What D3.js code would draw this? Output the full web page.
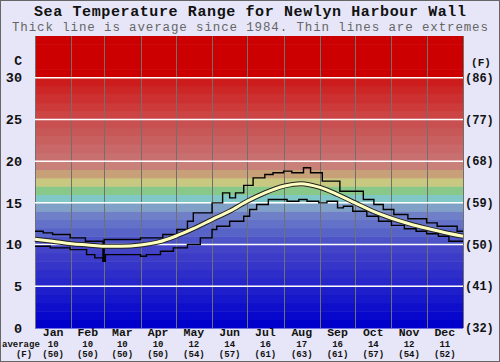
<!DOCTYPE html>
<html>
<head>
<meta charset="utf-8">
<script src="https://cdn.jsdelivr.net/npm/d3@7"></script>
<style>
  body { margin: 0; background: #fff; }
  svg { display: block; }
  text { font-family: "Liberation Mono", "DejaVu Sans Mono", monospace; }
</style>
</head>
<body>
<svg id="chart" width="500" height="362"></svg>
<script>
// month names and the monthly averages printed under the axis
const months = ["Jan","Feb","Mar","Apr","May","Jun","Jul","Aug","Sep","Oct","Nov","Dec"];
const monthStart = [0, 31, 59, 90, 120, 151, 181, 212, 243, 273, 304, 334, 365];
const monthAvgC = [10, 10, 10, 10, 12, 14, 16, 17, 16, 14, 12, 11];
const monthAvgF = [50, 50, 50, 50, 54, 57, 61, 63, 61, 57, 54, 52];

// y ticks, celsius and fahrenheit
const tickC = [0, 5, 10, 15, 20, 25, 30];
const tickF = [32, 41, 50, 59, 68, 77, 86];

// average since 1984 (day of year, deg C)
const avgDay  = [0, 15, 31, 45, 59, 74, 90, 105, 120, 135, 151, 166, 181, 196, 212, 227, 243, 258, 273, 288, 304, 319, 334, 349, 365];
const avgTemp = [10.65, 10.4, 10.1, 9.95, 9.8, 9.8, 9.95, 10.3, 11.0, 11.9, 13.0, 14.0, 15.2, 16.2, 17.0, 17.3, 16.85, 16.0, 15.0, 14.0, 13.15, 12.5, 11.95, 11.45, 11.0];

// extremes, step changes (day of year, deg C)
const maxDay  = [0, 7, 15, 30, 43, 58, 59, 90, 109, 121, 130, 135, 151, 160, 166, 171, 178, 186, 196, 203, 212, 219, 229, 235, 245, 260, 280, 289, 297, 306, 318, 334, 343, 360, 365];
const maxTemp = [11.6, 11.4, 11.2, 10.8, 10.4, 8.0, 10.6, 10.8, 11.2, 11.8, 12.8, 13.8, 15.0, 16.2, 15.6, 16.2, 17.1, 18.0, 18.4, 18.6, 18.8, 18.6, 19.2, 18.6, 17.6, 16.4, 15.4, 14.8, 14.2, 13.6, 13.1, 12.6, 12.2, 11.6, 11.6];

const minDay  = [0, 13, 30, 44, 51, 58, 60, 90, 95, 107, 118, 130, 141, 151, 155, 166, 178, 183, 189, 199, 215, 225, 232, 242, 249, 258, 263, 271, 283, 293, 304, 315, 325, 334, 344, 353, 365];
const minTemp = [9.8, 9.6, 9.4, 8.8, 8.4, 8.0, 8.8, 8.6, 8.8, 9.2, 9.6, 10.0, 10.8, 11.8, 12.2, 12.8, 13.4, 14.2, 14.8, 15.4, 15.2, 15.4, 15.2, 15.0, 15.2, 14.4, 14.6, 14.0, 13.4, 12.8, 12.3, 11.9, 11.6, 11.3, 11.0, 10.4, 10.4];

const W = 500, H = 362;
const plot = {left: 35, right: 463, top: 36, bottom: 328};

const svg = d3.select("#chart");

svg.append("rect")
    .attr("x", 0.5).attr("y", 0.5)
    .attr("width", W - 1).attr("height", H - 1)
    .attr("fill", "#e6e6f8")
    .attr("stroke", "#666");

const x = d3.scaleLinear().domain([0, 365]).range([plot.left, plot.right]);
const y = d3.scaleLinear().domain([0, 35]).range([plot.bottom, plot.top]);

// colour bands, one per degree
function bandColour(i) {
    if (i < 10) return d3.interpolateRgb("#0000cc", "#4444c8")(i / 9);
    if (i < 14) return d3.interpolateRgb("#4c54c8", "#7080c8")((i - 10) / 3);
    const mid = {14: "#80a0c8", 15: "#80c8c8", 16: "#88c888", 17: "#c8c880", 18: "#c8a078", 19: "#c88078"};
    if (mid[i]) return mid[i];
    if (i < 25) return d3.interpolateRgb("#c87070", "#c85050")((i - 20) / 4);
    if (i < 30) return d3.interpolateRgb("#cc4444", "#cc1c1c")((i - 25) / 4);
    return "#cc0000";
}

svg.append("g").selectAll("rect")
    .data(d3.range(0, 35))
    .join("rect")
    .attr("x", plot.left)
    .attr("width", plot.right - plot.left)
    .attr("y", d => y(d + 1))
    .attr("height", d => y(d) - y(d + 1) + 0.5)
    .attr("fill", d => bandColour(d));

// month dividers
svg.append("g").selectAll("line")
    .data(monthStart)
    .join("line")
    .attr("x1", d => Math.round(x(d)) + 0.5).attr("x2", d => Math.round(x(d)) + 0.5)
    .attr("y1", plot.top).attr("y2", plot.bottom)
    .attr("stroke", "#707070")
    .attr("stroke-width", 1);

// white lines every 5 degrees
svg.append("g").selectAll("line")
    .data(tickC.filter(d => d > 0))
    .join("line")
    .attr("x1", plot.left).attr("x2", plot.right)
    .attr("y1", d => y(d)).attr("y2", d => y(d))
    .attr("stroke", "#fff")
    .attr("stroke-width", 1.5);

// extremes
const stepLine = d3.line()
    .curve(d3.curveStepAfter)
    .x(d => x(d[0]))
    .y(d => y(d[1]));

svg.append("path")
    .datum(maxDay.map((d, i) => [d, maxTemp[i]]))
    .attr("d", stepLine)
    .attr("fill", "none")
    .attr("stroke", "#000")
    .attr("stroke-width", 1.4);

svg.append("path")
    .datum(minDay.map((d, i) => [d, minTemp[i]]))
    .attr("d", stepLine)
    .attr("fill", "none")
    .attr("stroke", "#000")
    .attr("stroke-width", 1.4);

// average
const avgLine = d3.line()
    .curve(d3.curveMonotoneX)
    .x(d => x(d[0]))
    .y(d => y(d[1]));
const avgData = avgDay.map((d, i) => [d, avgTemp[i]]);

svg.append("path")
    .datum(avgData)
    .attr("d", avgLine)
    .attr("fill", "none")
    .attr("stroke", "#222")
    .attr("stroke-width", 5);
svg.append("path")
    .datum(avgData)
    .attr("d", avgLine)
    .attr("fill", "none")
    .attr("stroke", "#ffffc0")
    .attr("stroke-width", 3);

// titles
svg.append("text")
    .attr("x", W / 2).attr("y", 16)
    .attr("text-anchor", "middle")
    .attr("font-size", 15).attr("font-weight", "bold")
    .attr("textLength", 432).attr("lengthAdjust", "spacing")
    .attr("fill", "#111")
    .text("Sea Temperature Range for Newlyn Harbour Wall");

svg.append("text")
    .attr("x", W / 2).attr("y", 31)
    .attr("text-anchor", "middle")
    .attr("font-size", 12.5)
    .attr("textLength", 476).attr("lengthAdjust", "spacing")
    .attr("fill", "#666")
    .text("Thick line is average since 1984. Thin lines are extremes");

// left axis (C)
svg.append("text")
    .attr("x", 22).attr("y", 65)
    .attr("text-anchor", "end")
    .attr("font-size", 13).attr("font-weight", "bold")
    .attr("fill", "#111")
    .text("C");

svg.append("g").selectAll("text")
    .data(tickC)
    .join("text")
    .attr("x", 22).attr("y", d => y(d))
    .attr("dy", "0.35em")
    .attr("text-anchor", "end")
    .attr("font-size", 13.5).attr("font-weight", "bold")
    .attr("fill", "#111")
    .text(d => d);

// right axis (F)
svg.append("text")
    .attr("x", 481).attr("y", 66)
    .attr("text-anchor", "middle")
    .attr("font-size", 11).attr("font-weight", "bold")
    .attr("fill", "#111")
    .text("(F)");

svg.append("g").selectAll("text")
    .data(tickF)
    .join("text")
    .attr("x", 465).attr("y", (d, i) => y(tickC[i]))
    .attr("dy", "0.35em")
    .attr("font-size", 12).attr("font-weight", "bold")
    .attr("fill", "#111")
    .text(d => "(" + d + ")");

// month labels and averages
const mid = (i) => x((monthStart[i] + monthStart[i + 1]) / 2);
const bottom = svg.append("g").attr("font-weight", "bold").attr("fill", "#111");

bottom.selectAll(".mname")
    .data(months)
    .join("text")
    .attr("class", "mname")
    .attr("x", (d, i) => mid(i)).attr("y", 336)
    .attr("text-anchor", "middle")
    .attr("font-size", 11.5)
    .text(d => d);

bottom.selectAll(".mc")
    .data(monthAvgC)
    .join("text")
    .attr("class", "mc")
    .attr("x", (d, i) => mid(i)).attr("y", 347)
    .attr("text-anchor", "middle")
    .attr("font-size", 9)
    .text(d => d);

bottom.selectAll(".mf")
    .data(monthAvgF)
    .join("text")
    .attr("class", "mf")
    .attr("x", (d, i) => mid(i)).attr("y", 357)
    .attr("text-anchor", "middle")
    .attr("font-size", 9)
    .text(d => "(" + d + ")");

bottom.append("text")
    .attr("x", 2).attr("y", 347)
    .attr("font-size", 9)
    .text("average");
bottom.append("text")
    .attr("x", 24).attr("y", 357)
    .attr("text-anchor", "middle")
    .attr("font-size", 9)
    .text("(F)");
</script>
</body>
</html>
